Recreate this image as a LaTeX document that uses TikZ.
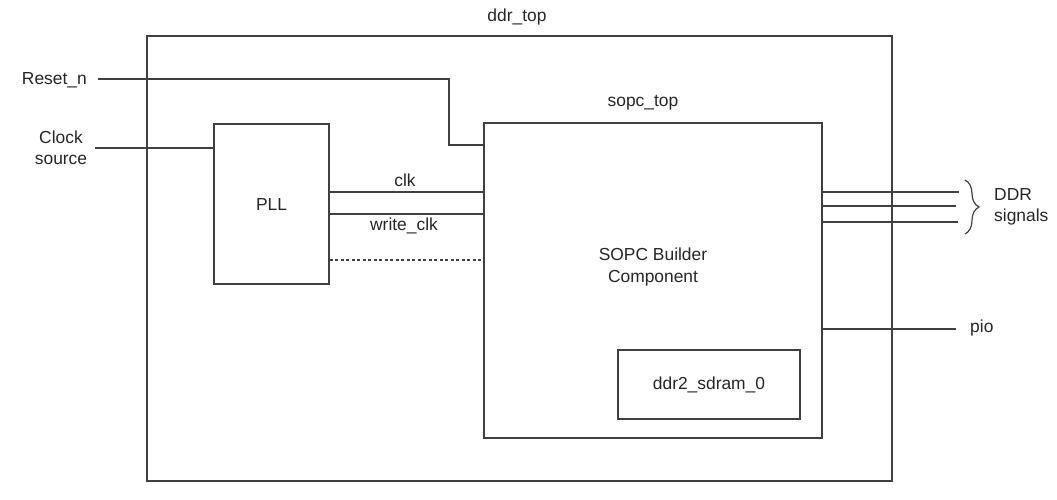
\documentclass[tikz,border=0pt]{standalone}
\usepackage{fontspec}
\setmainfont{Liberation Sans}
\usetikzlibrary{decorations.pathreplacing}

\begin{document}
\begin{tikzpicture}[x=1pt,y=-1pt,
  blk/.style={draw=black!75, line width=1.2pt, minimum width=#1},
  wire/.style={draw=black!75, line width=1.2pt},
  lbl/.style={font=\fontsize{17.4}{21.5}\selectfont, text=black!85, inner sep=0pt, align=center}]
\useasboundingbox (0,0) rectangle (1057,499);

% blocks
\node[blk=745pt, minimum height=445pt] (ddrtop) at (519.5,258.5){};
\node[blk=338pt, minimum height=315pt] (sopc) at (653,280.5){};
\node[blk=115pt, minimum height=160pt] (pll) at (271.5,204){};
\node[blk=182pt, minimum height=69pt, lbl] (sdram) at (709,384.5){ddr2\_sdram\_0};

% text
\node[lbl] (ddrlbl) at (517,17){ddr\_top};
\node[lbl] (sopclbl) at (643,103){sopc\_top};
\node[lbl] (pllname) at (271.5,205){PLL};
\node[lbl] (sopcname) at (653,267){SOPC Builder\\Component};
\node[lbl, anchor=east] (reset) at (87,80){Reset\_n};
\node[lbl] (clksrc) at (61,148){Clock\\source};
\node[lbl] (clklbl) at (405,180){clk};
\node[lbl] (wclklbl) at (404,226){write\_clk};
\node[lbl, align=left, anchor=west] (ddrsig) at (994,207){DDR\\signals};
\node[lbl, anchor=west] (pio) at (970,328){pio};

% free ends
\coordinate (rstart) at (98,79);
\coordinate (rbend) at (449,79);
\coordinate (clkin) at (95,148);
\coordinate (d1) at (959,192);
\coordinate (d2) at (956,206);
\coordinate (d3) at (958,222);
\coordinate (pioend) at (956,329);

% wires
\draw[wire] (rstart) -- (rbend) |- (sopc.west |- 0,145);
\draw[wire] (clkin) -- (pll.west |- clkin);
\draw[wire] (pll.east |- 0,192) -- (sopc.west |- 0,192);
\draw[wire] (pll.east |- 0,214) -- (sopc.west |- 0,214);
\draw[wire, dash pattern=on 3pt off 2.5pt] (pll.east |- 0,260) -- (sopc.west |- 0,260);
\draw[wire] (sopc.east |- d1) -- (d1);
\draw[wire] (sopc.east |- d2) -- (d2);
\draw[wire] (sopc.east |- d3) -- (d3);
\draw[wire] (sopc.east |- pioend) -- (pioend);
\draw[wire, decorate, decoration={brace, amplitude=14pt}] (965,180) -- (965,234);
\end{tikzpicture}
\end{document}
